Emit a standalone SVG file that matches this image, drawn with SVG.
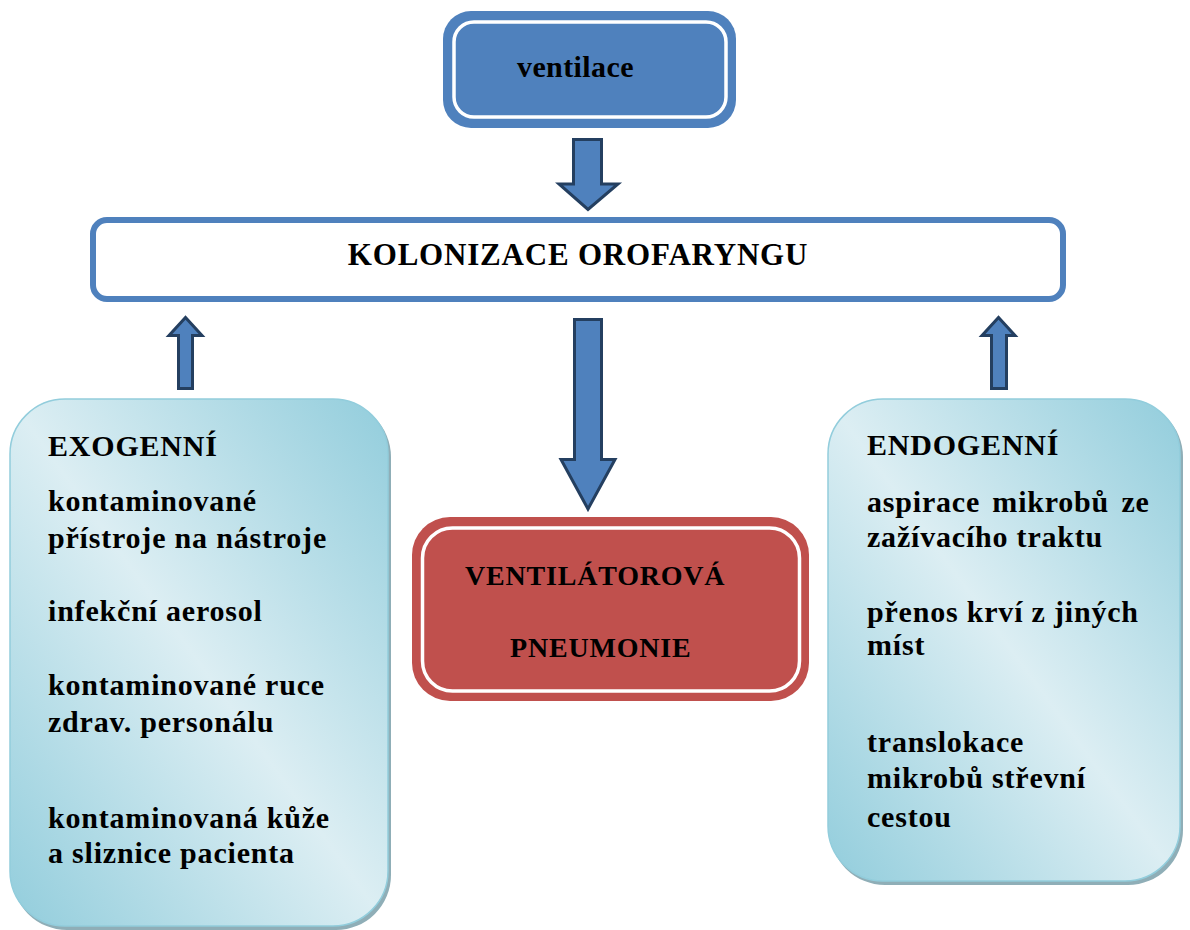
<svg xmlns="http://www.w3.org/2000/svg" width="1190" height="930" viewBox="0 0 1190 930">
<defs>
<linearGradient id="sideGrad" x1="1" y1="0" x2="0" y2="1">
<stop offset="0" stop-color="#92CDDC"/>
<stop offset="0.5" stop-color="#DCEEF3"/>
<stop offset="1" stop-color="#92CDDC"/>
</linearGradient>
</defs>
<style>
text{font-family:"Liberation Serif","Times New Roman",serif;font-weight:bold;fill:#000;}
.t{font-size:30px;letter-spacing:0.8px;}
.arrow{fill:#4F81BD;stroke:#243F60;stroke-width:3;stroke-linejoin:miter;}
.side{fill:url(#sideGrad);stroke:#92CDDC;stroke-width:1.5;}
.shadow{fill:#8FAEB7;}
</style>
<rect width="1190" height="930" fill="#FFFFFF"/>

<g id="node-ventilace">
<rect x="443" y="11" width="293" height="117" rx="28" fill="#4F81BD"/>
<rect x="454" y="22" width="272" height="95" rx="20" fill="none" stroke="#FFFFFF" stroke-width="3.5"/>
<text x="517" y="77" style="font-size:30px;letter-spacing:0.4px">ventilace</text>
</g>

<g id="node-kolonizace">
<rect x="93" y="220" width="970" height="79" rx="14" fill="#FFFFFF" stroke="#4F81BD" stroke-width="6"/>
<text x="578" y="265" text-anchor="middle" style="font-size:31px;letter-spacing:0.8px">KOLONIZACE OROFARYNGU</text>
</g>

<g id="node-pneumonie">
<rect x="412" y="517" width="397" height="184" rx="38" fill="#C0504D"/>
<rect x="422.5" y="528" width="377" height="163" rx="30" fill="none" stroke="#FFFFFF" stroke-width="3.5"/>
<text x="465" y="585" style="font-size:28px;letter-spacing:0.8px">VENTILÁTOROVÁ</text>
<text x="510" y="657" style="font-size:28px;letter-spacing:0.8px">PNEUMONIE</text>
</g>

<g id="node-exogenni">
<rect class="shadow" x="12" y="402" width="379" height="528" rx="55"/>
<rect class="side" x="10" y="399" width="378" height="527" rx="55"/>
<text class="t" x="48" y="456">EXOGENNÍ</text>
<text class="t" x="48" y="511">kontaminované</text>
<text class="t" x="48" y="548">přístroje na nástroje</text>
<text class="t" x="48" y="621">infekční aerosol</text>
<text class="t" x="48" y="695">kontaminované ruce</text>
<text class="t" x="48" y="732">zdrav. personálu</text>
<text class="t" x="48" y="828">kontaminovaná kůže</text>
<text class="t" x="48" y="863">a sliznice pacienta</text>
</g>

<g id="node-endogenni">
<rect class="shadow" x="830" y="402" width="353" height="483" rx="55"/>
<rect class="side" x="828" y="399" width="352" height="482" rx="55"/>
<text class="t" x="867" y="455">ENDOGENNÍ</text>
<text class="t" x="867" y="512" style="word-spacing:4px">aspirace mikrobů ze</text>
<text class="t" x="867" y="547">zažívacího traktu</text>
<text class="t" x="867" y="622">přenos krví z jiných</text>
<text class="t" x="867" y="655">míst</text>
<text class="t" x="867" y="752">translokace</text>
<text class="t" x="867" y="788">mikrobů střevní</text>
<text class="t" x="867" y="827">cestou</text>
</g>

<g id="connectors">
<polygon class="arrow" points="573.5,139.5 601.5,139.5 601.5,184 618,184 588,209.5 559,184 573.5,184"/>
<polygon class="arrow" points="574.5,319.5 601.5,319.5 601.5,459.5 615,459.5 588,509 561,459.5 574.5,459.5"/>
<polygon class="arrow" points="178.5,388.5 192.5,388.5 192.5,335.5 202,335.5 185.5,317.5 169,335.5 178.5,335.5"/>
<polygon class="arrow" points="991.5,388.5 1006.5,388.5 1006.5,335.5 1015,335.5 998.5,317.5 982,335.5 991.5,335.5"/>
</g>
</svg>
